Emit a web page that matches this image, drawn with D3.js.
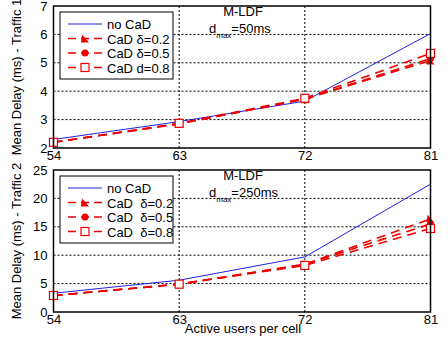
<!DOCTYPE html>
<html>
<head>
<meta charset="utf-8">
<script src="https://cdn.jsdelivr.net/npm/d3@7"></script>
<style>
  body { margin: 0; background: #fff; }
  svg { font-family: "Liberation Sans", Arial, sans-serif; }
</style>
</head>
<body>
<div id="chart"></div>
<script>
// x categories (active users per cell)
var users = [54, 63, 72, 81];

// Traffic 1, dmax = 50ms
var t1NoCad = [2.3, 2.93, 3.65, 6.03];
var t1Cad02 = [2.2, 2.85, 3.72, 5.08];
var t1Cad05 = [2.2, 2.85, 3.72, 5.15];
var t1Cad08 = [2.2, 2.87, 3.75, 5.33];

// Traffic 2, dmax = 250ms
var t2NoCad = [3.3, 5.6, 9.7, 22.5];
var t2Cad02 = [2.9, 4.9, 8.4, 16.4];
var t2Cad05 = [2.9, 4.9, 8.4, 15.5];
var t2Cad08 = [2.9, 4.9, 8.2, 14.7];

var t1Ticks = [2, 3, 4, 5, 6, 7];
var t2Ticks = [0, 5, 10, 15, 20, 25];

var t1Legend = ["no CaD", "CaD \u03b4=0.2", "CaD \u03b4=0.5", "CaD d=0.8"];
var t2Legend = ["no CaD", "CaD  \u03b4=0.2", "CaD  \u03b4=0.5", "CaD  \u03b4=0.8"];

var width = 448, height = 338;
var svg = d3.select("#chart").append("svg")
    .attr("width", width)
    .attr("height", height);

var x = d3.scaleLinear().domain([54, 81]).range([53.5, 430.5]);

function panel(top, yDomain, yTicks, series, legendNames, ylabel, dmax) {
    var y = d3.scaleLinear().domain(yDomain).range([top + 142, top]);
    var g = svg.append("g");

    // grid
    g.selectAll(".hgrid")
        .data(yTicks.slice(1, -1))
      .enter().append("line")
        .attr("x1", x(54)).attr("x2", x(81))
        .attr("y1", function(d) { return y(d); })
        .attr("y2", function(d) { return y(d); })
        .style("stroke", "#000")
        .style("stroke-width", 1)
        .style("stroke-dasharray", "2,2");
    g.selectAll(".vgrid")
        .data(users.slice(1, -1))
      .enter().append("line")
        .attr("x1", function(d) { return x(d); })
        .attr("x2", function(d) { return x(d); })
        .attr("y1", y(yDomain[0])).attr("y2", y(yDomain[1]))
        .style("stroke", "#000")
        .style("stroke-width", 1)
        .style("stroke-dasharray", "2,2");

    // axes
    var yAxis = d3.axisLeft(y).tickValues(yTicks).tickFormat(d3.format("d")).tickSize(0).tickPadding(6);
    g.append("g")
        .attr("transform", "translate(" + x(54) + ",0)")
        .call(yAxis)
        .call(function(s) {
            s.select(".domain").remove();
            s.selectAll("text")
                .style("font-size", "13px")
                .style("font-family", "'Liberation Sans', Arial, sans-serif")
                .style("fill", "#000");
        });
    var xAxis = d3.axisBottom(x).tickValues(users).tickFormat(d3.format("d")).tickSize(0).tickPadding(3);
    g.append("g")
        .attr("transform", "translate(0," + y(yDomain[0]) + ")")
        .call(xAxis)
        .call(function(s) {
            s.select(".domain").remove();
            s.selectAll("text")
                .style("font-size", "13px")
                .style("font-family", "'Liberation Sans', Arial, sans-serif")
                .style("fill", "#000");
        });

    // lines
    var line = d3.line()
        .x(function(d, i) { return x(users[i]); })
        .y(function(d) { return y(d); });

    series.forEach(function(s) {
        g.append("path")
            .datum(s.values)
            .attr("d", line)
            .style("fill", "none")
            .style("stroke", s.color)
            .style("stroke-width", s.dash ? 1.6 : 1)
            .style("stroke-dasharray", s.dash ? "9,6" : null);
    });

    // markers
    series.forEach(function(s) {
        if (!s.marker) return;
        s.values.forEach(function(v, i) {
            drawMarker(g, s.marker, x(users[i]), y(v));
        });
    });

    // frame
    g.append("rect")
        .attr("x", x(54)).attr("y", top)
        .attr("width", x(81) - x(54))
        .attr("height", 142)
        .style("fill", "none")
        .style("stroke", "#000")
        .style("stroke-width", 1.5);

    // legend
    var lg = g.append("g").attr("transform", "translate(60," + (top + 6) + ")");
    lg.append("rect")
        .attr("width", 113).attr("height", 67)
        .style("fill", "#fff")
        .style("stroke", "#000")
        .style("stroke-width", 1);
    series.forEach(function(s, i) {
        var ly = 12 + i * 14.5;
        lg.append("line")
            .attr("x1", 8).attr("x2", 42)
            .attr("y1", ly).attr("y2", ly)
            .style("stroke", s.color)
            .style("stroke-width", s.dash ? 1.3 : 1)
            .style("stroke-dasharray", s.dash ? "8,5" : null);
        if (s.marker) drawMarker(lg, s.marker, 25, ly);
        lg.append("text")
            .attr("x", 47).attr("y", ly + 5)
            .style("font-size", "13px")
            .attr("xml:space", "preserve")
            .text(legendNames[i]);
    });

    // annotation
    g.append("text")
        .attr("x", 243).attr("y", top + 10)
        .attr("text-anchor", "middle")
        .style("font-size", "13px")
        .text("M-LDF");
    var ann = g.append("text")
        .attr("x", 209).attr("y", top + 27)
        .style("font-size", "13px");
    ann.append("tspan").text("d");
    ann.append("tspan").attr("dy", 5).style("font-size", "8px").text("max");
    ann.append("tspan").attr("dy", -5).text("=" + dmax);

    // y label
    svg.append("text")
        .attr("transform", "translate(21," + (top + 71) + ") rotate(-90)")
        .attr("text-anchor", "middle")
        .style("font-size", "13px")
        .text(ylabel);
}

function drawMarker(g, type, cx, cy) {
    if (type == "square") {
        g.append("rect")
            .attr("x", cx - 4).attr("y", cy - 4)
            .attr("width", 8).attr("height", 8)
            .style("fill", "#fff")
            .style("stroke", "#e00")
            .style("stroke-width", 1.2);
    } else if (type == "circle") {
        g.append("circle")
            .attr("cx", cx).attr("cy", cy).attr("r", 3.5)
            .style("fill", "#e00");
    } else {
        g.append("path")
            .attr("d", "M" + (cx - 4) + "," + (cy + 4) + "L" + (cx + 4) + "," + (cy + 4) + "L" + (cx - 3) + "," + (cy - 4) + "Z")
            .style("fill", "#e00");
    }
}

panel(6, [2, 7], t1Ticks, [
    { values: t1NoCad, color: "#2020e0", dash: false, marker: null },
    { values: t1Cad02, color: "#e00", dash: true, marker: "triangle" },
    { values: t1Cad05, color: "#e00", dash: true, marker: "circle" },
    { values: t1Cad08, color: "#e00", dash: true, marker: "square" }
], t1Legend, "Mean Delay (ms) - Traffic 1", "50ms");

panel(170, [0, 25], t2Ticks, [
    { values: t2NoCad, color: "#2020e0", dash: false, marker: null },
    { values: t2Cad02, color: "#e00", dash: true, marker: "triangle" },
    { values: t2Cad05, color: "#e00", dash: true, marker: "circle" },
    { values: t2Cad08, color: "#e00", dash: true, marker: "square" }
], t2Legend, "Mean Delay (ms) - Traffic 2", "250ms");

svg.append("text")
    .attr("x", 243).attr("y", 333)
    .attr("text-anchor", "middle")
    .style("font-size", "13px")
    .text("Active users per cell");
</script>
</body>
</html>
